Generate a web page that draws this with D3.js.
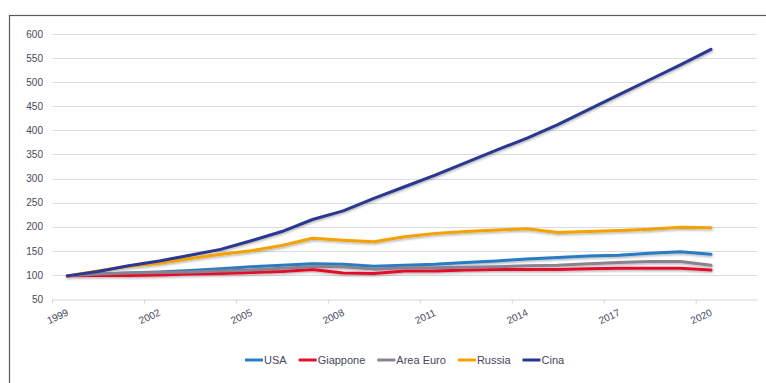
<!DOCTYPE html>
<html>
<head>
<meta charset="utf-8">
<script src="https://cdn.jsdelivr.net/npm/d3@7"></script>
<style>
  html, body { margin: 0; padding: 0; background: #fff; }
  svg { display: block; }
  text { font-family: "Liberation Sans", Arial, sans-serif; fill: #45475c; }
</style>
</head>
<body>
<div id="chart"></div>
<script>
// Index series, 1999 = base
const years = d3.range(1999, 2021);
const usa      = [98, 102, 104, 106, 109, 113, 117, 120, 123, 122, 118, 120, 122, 126, 129, 133, 136, 139, 141, 145, 148, 143];
const giappone = [98, 99, 99, 100, 102, 103, 105, 107, 111, 104, 103, 108, 108, 110, 111, 111, 111, 113, 114, 114, 114, 110];
const areaEuro = [98, 102, 104, 105, 106, 108, 110, 114, 117, 117, 112, 115, 115, 116, 117, 119, 120, 123, 126, 128, 128, 120];
const russia   = [98, 108, 118, 124, 134, 143, 150, 161, 176, 172, 169, 179, 186, 190, 193, 196, 188, 190, 192, 195, 199, 198];
const cina     = [98, 107, 119, 129, 141, 153, 171, 190, 215, 233, 259, 283, 307, 333, 359, 384, 412, 443, 474, 505, 536, 568];

const seriesNames  = ["USA", "Giappone", "Area Euro", "Russia", "Cina"];
const seriesColors = ["#2a7cc2", "#e3102c", "#8a8290", "#f5a200", "#29378f"];
const seriesValues = [usa, giappone, areaEuro, russia, cina];

const yTicks = d3.range(50, 601, 50);
const xTickYears = [1999, 2002, 2005, 2008, 2011, 2014, 2017, 2020];

const W = 766, H = 383;
const svg = d3.select("#chart").append("svg").attr("width", W).attr("height", H);

// soft shadow under the lines
const defs = svg.append("defs");
const f = defs.append("filter").attr("id", "shadow")
  .attr("x", "-5%").attr("y", "-5%").attr("width", "110%").attr("height", "120%");
f.append("feDropShadow").attr("dx", 0.6).attr("dy", 1.4).attr("stdDeviation", 1)
  .attr("flood-color", "#000").attr("flood-opacity", 0.3);

// outer frame
svg.append("rect").attr("x", 9.5).attr("y", 15.5).attr("width", 780).attr("height", 400)
  .attr("fill", "none").attr("stroke", "#5a5a5a").attr("stroke-width", 1.2);

const plot = { left: 52, right: 757, top: 34, bottom: 299 };

const x = d3.scaleLinear().domain([1999, 2022]).range([plot.left, plot.right]);
const y = d3.scaleLinear().domain([50, 600]).range([plot.bottom, plot.top]);

// horizontal gridlines
svg.append("g").selectAll("line").data(yTicks.filter(d => d > 50)).join("line")
  .attr("x1", plot.left).attr("x2", plot.right)
  .attr("y1", d => Math.round(y(d)) + 0.5).attr("y2", d => Math.round(y(d)) + 0.5)
  .attr("stroke", "#dcdce6").attr("stroke-width", 1);

// y axis labels
const yAxis = svg.append("g").attr("transform", `translate(${plot.left},0)`)
  .call(d3.axisLeft(y).tickValues(yTicks).tickSize(0).tickPadding(9));
yAxis.select(".domain").remove();
yAxis.selectAll("text").attr("font-size", 10).style("font-family", "Liberation Sans, Arial, sans-serif").attr("fill", "#45475c");

// x axis
const xAxis = svg.append("g").attr("transform", `translate(0,${Math.round(y(50)) + 0.5})`)
  .call(d3.axisBottom(x).tickValues(xTickYears).tickFormat(d3.format("d")).tickSize(4).tickSizeOuter(0));
xAxis.select(".domain").attr("stroke", "#d4d4de");
xAxis.selectAll(".tick line").attr("stroke", "#d4d4de");
xAxis.selectAll("text")
  .attr("font-size", 10)
  .style("font-family", "Liberation Sans, Arial, sans-serif")
  .attr("fill", "#45475c")
  .attr("text-anchor", "middle")
  .attr("dy", null)
  .attr("y", null)
  .attr("dominant-baseline", "central")
  .attr("transform", "translate(5,17) rotate(-25)");

// series lines
const line = d3.line()
  .x((d, i) => x(years[i] + 0.5))
  .y(d => y(d));

const gLines = svg.append("g").attr("filter", "url(#shadow)");
seriesValues.forEach((vals, k) => {
  gLines.append("path")
    .datum(vals)
    .attr("d", line)
    .attr("fill", "none")
    .attr("stroke", seriesColors[k])
    .attr("stroke-width", 3)
    .attr("stroke-linejoin", "round")
    .attr("stroke-linecap", "round");
});

// legend
const legend = svg.append("g").attr("transform", "translate(245,360)");
let lx = 0;
seriesNames.forEach((name, k) => {
  const g = legend.append("g").attr("transform", `translate(${lx},0)`);
  g.append("line").attr("x1", 0).attr("x2", 18).attr("y1", 0).attr("y2", 0)
    .attr("stroke", seriesColors[k]).attr("stroke-width", 3);
  const t = g.append("text").attr("x", 19).attr("y", 0)
    .attr("dominant-baseline", "central")
    .attr("font-size", 11)
    .text(name);
  lx += 19 + t.node().getComputedTextLength() + 12;
});
</script>
</body>
</html>
